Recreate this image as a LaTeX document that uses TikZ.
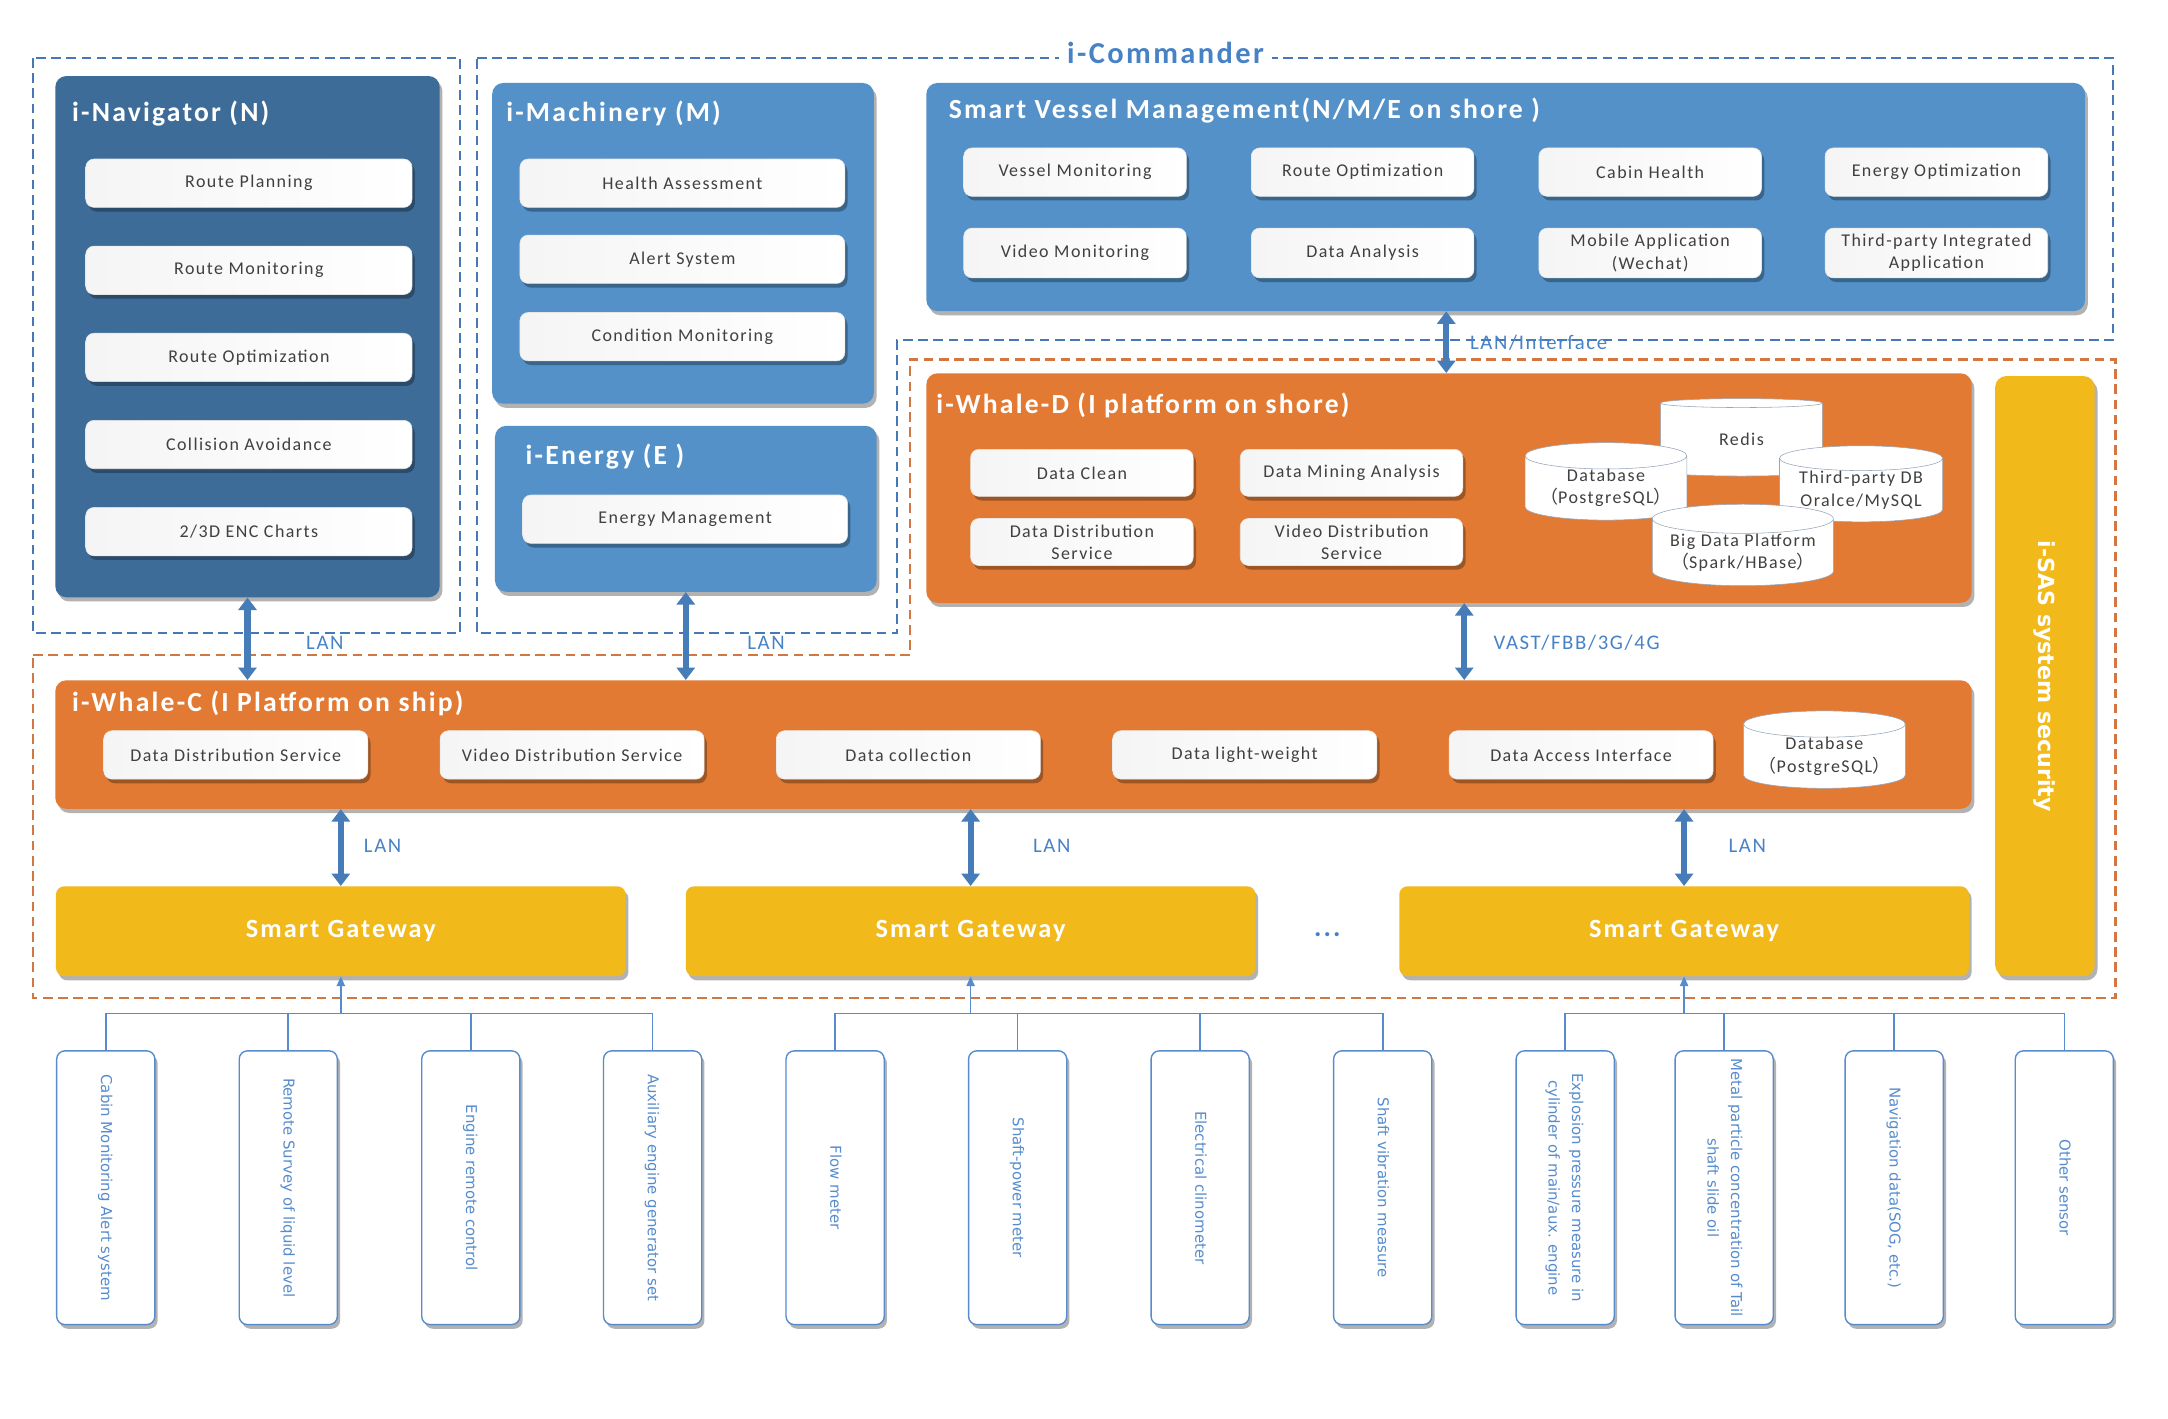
\documentclass[tikz,border=0pt]{standalone}
\usepackage{fontspec}
\usepackage{graphicx}
\usetikzlibrary{arrows.meta,shapes.geometric,shadows}
\newfontfamily\boxfont{Carlito}[LetterSpace=8]
\newfontfamily\sensorfont{DejaVu Sans}
\newfontfamily\cjkfont{Noto Sans CJK SC}
\newcommand\fwl{{\cjkfont （}}
\newcommand\fwr{{\cjkfont ）}}
\definecolor{navblue}{RGB}{62,108,152}
\definecolor{modblue}{RGB}{84,145,200}
\definecolor{whaleorange}{RGB}{226,122,52}
\definecolor{gateyellow}{RGB}{242,185,26}
\definecolor{dashblue}{RGB}{70,120,182}
\definecolor{dashorange}{RGB}{210,118,66}
\definecolor{arrowblue}{RGB}{70,125,185}
\definecolor{sensorblue}{RGB}{86,140,205}
\definecolor{labelblue}{RGB}{72,130,198}
\definecolor{boxtext}{RGB}{64,64,64}
\definecolor{dbline}{RGB}{150,165,185}

\begin{document}
\begin{tikzpicture}[x=1pt, y=-1pt,
    softshadow/.style={drop shadow={shadow xshift=2pt, shadow yshift=-3pt, opacity=.3, fill=black}},
    panel/.style={rounded corners=8pt, fill=#1, softshadow, inner sep=0pt},
    paneltitle/.style={anchor=west, inner sep=0pt, text=white, font=\boxfont\bfseries\fontsize{20}{24}\selectfont},
    item/.style={rounded corners=6pt, draw=black!10, left color=black!4, right color=white, softshadow, minimum height=35, inner sep=1pt, align=center, text=boxtext, font=\boxfont\fontsize{13}{16}\selectfont},
    db/.style={cylinder, shape border rotate=90, aspect=0.2, draw=dbline, fill=white, inner sep=0pt, align=center, text=boxtext, font=\boxfont\fontsize{13}{16}\selectfont},
    gateway/.style={rounded corners=6pt, fill=gateyellow, softshadow, minimum width=412, minimum height=65, text=white, font=\boxfont\bfseries\fontsize{19}{22}\selectfont},
    sensor/.style={rounded corners=6pt, draw=sensorblue, line width=1pt, fill=white, softshadow, minimum width=71, minimum height=198, inner sep=0pt, text=sensorblue, font=\sensorfont\fontsize{10.8}{17}\selectfont},
    link/.style={line width=4.5pt, draw=arrowblue, {Triangle[length=9pt,width=13pt]}-{Triangle[length=9pt,width=13pt]}},
    feed/.style={line width=1.2pt, draw=sensorblue, -{Triangle[length=7pt,width=6pt]}},
    bus/.style={line width=1.2pt, draw=sensorblue},
    frameblue/.style={draw=dashblue, line width=1.5pt, dash pattern=on 7pt off 4pt},
    frameorange/.style={draw=dashorange, line width=1.5pt, dash pattern=on 7pt off 4pt},
    netlabel/.style={inner sep=0pt, text=labelblue, font=\boxfont\fontsize{15}{18}\selectfont}]

    \useasboundingbox[fill=white] (0,0) rectangle (1568,1026);

    % dashed frames
    \draw[frameblue] (24,42) rectangle (333,458);
    \draw[frameblue] (345,42) -- (1528,42) -- (1528,246) -- (649,246) -- (649,458) -- (345,458) -- cycle;
    \draw[frameorange] (24,474) -- (658,474) -- (658,260) -- (1530,260) -- (1530,722) -- (24,722) -- cycle;
    \node[fill=white, inner xsep=6pt, inner ysep=0pt, text=labelblue, font=\boxfont\bfseries\fontsize{22}{26}\selectfont] (cmd) at (843,38) {i-Commander};

    % i-Navigator
    \node[panel=navblue, minimum width=278, minimum height=377] (nav) at (179,243.5) {};
    \node[paneltitle] (navtitle) at (52,82) {i-Navigator (N)};
    \foreach \t [count=\i] in {Route Planning, Route Monitoring, Route Optimization, Collision Avoidance, 2/3D ENC Charts}
        \node[item, minimum width=236] (nav\i) at (180,69.5+63*\i) {\t};

    % i-Machinery and i-Energy
    \node[panel=modblue, minimum width=276, minimum height=232] (mach) at (494,176) {};
    \node[paneltitle] (machtitle) at (366,82) {i-Machinery (M)};
    \node[item, minimum width=235] (mach1) at (493.5,132.5) {Health Assessment};
    \node[item, minimum width=235] (mach2) at (493.5,187.5) {Alert System};
    \node[item, minimum width=235] (mach3) at (493.5,243.5) {Condition Monitoring};
    \node[panel=modblue, minimum width=276, minimum height=120] (en) at (496,368) {};
    \node[paneltitle] (entitle) at (380,330) {i-Energy (E )};
    \node[item, minimum width=235] (en1) at (495.5,375.5) {Energy Management};

    % Smart Vessel Management
    \node[panel=modblue, minimum width=838, minimum height=165] (svm) at (1089,142.5) {};
    \node[paneltitle] (svmtitle) at (686,80) {Smart Vessel Management(N/M/E on shore )};
    \foreach \x/\t [count=\i] in {777.5/Vessel Monitoring, 985.5/Route Optimization, 1193.5/Cabin Health, 1400.5/Energy Optimization}
        \node[item, minimum width=161] (svma\i) at (\x,124.5) {\t};
    \foreach \x/\t [count=\i] in {777.5/Video Monitoring, 985.5/Data Analysis, 1193.5/{Mobile Application\\(Wechat)}, 1400.5/{Third-party Integrated\\Application}}
        \node[item, minimum width=161, minimum height=36] (svmb\i) at (\x,183) {\t};

    % i-Whale-D
    \node[panel=whaleorange, minimum width=756, minimum height=166] (wd) at (1048,353) {};
    \node[paneltitle] (wdtitle) at (677,293) {i-Whale-D (I platform on shore)};
    \node[item, minimum width=161, minimum height=34] (wd1) at (782.5,342) {Data Clean};
    \node[item, minimum width=161, minimum height=34] (wd2) at (977.5,342) {Data Mining Analysis};
    \node[item, minimum width=161, minimum height=34] (wd3) at (782.5,392) {Data Distribution\\Service};
    \node[item, minimum width=161, minimum height=34] (wd4) at (977.5,392) {Video Distribution\\Service};
    \node[db, minimum width=117, minimum height=56] (redis) at (1259.5,318) {Redis};
    \node[db, minimum width=117, minimum height=56] (pgd) at (1161.5,353) {Database\\\fwl PostgreSQL\fwr};
    \node[db, minimum width=118, minimum height=55] (third) at (1346,354.5) {Third-party DB\\Oralce/MySQL};
    \node[db, minimum width=131, minimum height=55] (bigdata) at (1260.5,399.5) {Big Data Platform\\\fwl Spark/HBase\fwr};

    % i-SAS
    \node[panel=gateyellow, minimum width=72, minimum height=434, text=white, font=\sensorfont\bfseries\fontsize{16}{18}\selectfont] (sas) at (1479,489) {\rotatebox{-90}{i-SAS system security}};

    % i-Whale-C
    \node[panel=whaleorange, minimum width=1386, minimum height=93] (wc) at (733,538.5) {};
    \node[paneltitle] (wctitle) at (52,509) {i-Whale-C (I Platform on ship)};
    \foreach \t [count=\i] in {Data Distribution Service, Video Distribution Service, Data collection, Data light-weight, Data Access Interface}
        \node[item, minimum width=191] (wc\i) at (170.5+243.25*\i-243.25,546) {\t};
    \node[db, minimum width=117, minimum height=56] (pgc) at (1319.5,547) {Database\\\fwl PostgreSQL\fwr};

    % gateways
    \node[gateway] (gw1) at (246.5,673.5) {Smart Gateway};
    \node[gateway] (gw2) at (702,673.5) {Smart Gateway};
    \node[gateway] (gw3) at (1218,673.5) {Smart Gateway};
    \node[text=labelblue, font=\boxfont\bfseries\fontsize{20}{20}\selectfont] (dots) at (960,676) {...};

    % links
    \draw[link] (nav.south) -- (nav.south |- wc.north);
    \draw[link] (en.south) -- (en.south |- wc.north);
    \draw[link] ([xshift=-43]svm.south) -- ([xshift=-43]svm.south |- wd.north);
    \draw[link] ([xshift=11]wd.south) -- ([xshift=11]wd.south |- wc.north);
    \draw[link] (gw1.north) -- (gw1.north |- wc.south);
    \draw[link] (gw2.north) -- (gw2.north |- wc.south);
    \draw[link] (gw3.north) -- (gw3.north |- wc.south);
    \node[netlabel] (lan1) at (235,465) {LAN};
    \node[netlabel] (lan2) at (554,465) {LAN};
    \node[netlabel, anchor=west] (lanif) at (1063,248) {LAN/Interface};
    \node[netlabel, anchor=west] (vast) at (1080,465) {VAST/FBB/3G/4G};
    \node[netlabel, anchor=west] (lan3) at (263,612) {LAN};
    \node[netlabel, anchor=west] (lan4) at (747,612) {LAN};
    \node[netlabel, anchor=west] (lan5) at (1250,612) {LAN};

    % sensors
    \foreach \x/\t [count=\i] in {76.5/{Cabin Monitoring Alert system}, 208.5/{Remote Survey of liquid level}, 340.5/{Engine remote control}, 472/{Auxiliary engine generator set}, 604/{Flow meter}, 736/{Shaft-power meter}, 868/{Electrical clinometer}, 1000/{Shaft vibration measure}, 1132/{Explosion pressure measure in\\cylinder of main/aux. engine}, 1247/{Metal particle concentration of Tail\\shaft slide oil}, 1370/{Navigation data(SOG, etc.)}, 1493/{Other sensor}}
        \node[sensor] (s\i) at (\x,859) {\rotatebox{-90}{\begin{tabular}{@{}c@{}}\t\end{tabular}}};

    \coordinate (tap1) at (gw1.south |- 0,733);
    \coordinate (tap2) at (gw2.south |- 0,733);
    \coordinate (tap3) at (gw3.south |- 0,733);
    \draw[bus] (s1.north) -- (s1.north |- tap1) -- (s4.north |- tap1) -- (s4.north);
    \draw[bus] (s2.north) -- (s2.north |- tap1);
    \draw[bus] (s3.north) -- (s3.north |- tap1);
    \draw[bus] (s5.north) -- (s5.north |- tap2) -- (s8.north |- tap2) -- (s8.north);
    \draw[bus] (s6.north) -- (s6.north |- tap2);
    \draw[bus] (s7.north) -- (s7.north |- tap2);
    \draw[bus] (s9.north) -- (s9.north |- tap3) -- (s12.north |- tap3) -- (s12.north);
    \draw[bus] (s10.north) -- (s10.north |- tap3);
    \draw[bus] (s11.north) -- (s11.north |- tap3);
    \draw[feed] (tap1) -- (gw1.south);
    \draw[feed] (tap2) -- (gw2.south);
    \draw[feed] (tap3) -- (gw3.south);
\end{tikzpicture}
\end{document}
